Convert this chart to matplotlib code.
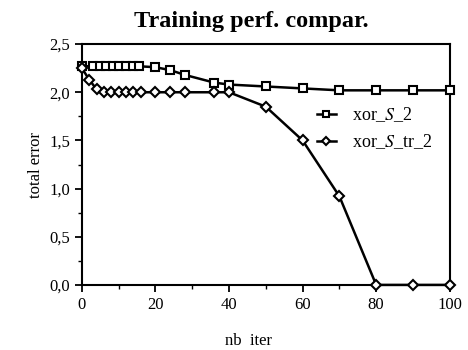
import matplotlib.pyplot as plt
from matplotlib.ticker import MultipleLocator, FuncFormatter

# series
x_sq = [0, 3, 5, 6.5, 8.5, 10, 12, 14, 15.5, 20, 24, 28, 36, 40, 50, 60, 70, 80, 90, 100]
y_sq = [2.27, 2.27, 2.27, 2.27, 2.27, 2.27, 2.27, 2.27, 2.27, 2.26, 2.23, 2.18,
        2.10, 2.08, 2.06, 2.04, 2.02, 2.02, 2.02, 2.02]
x_di = [0, 2, 4, 6, 8, 10, 12, 14, 16, 20, 24, 28, 36, 40, 50, 60, 70, 80, 90, 100]
y_di = [2.25, 2.13, 2.03, 2.0, 2.0, 2.0, 2.0, 2.0, 2.0, 2.0, 2.0, 2.0,
        2.0, 2.0, 1.85, 1.50, 0.92, 0.0, 0.0, 0.0]
labels = ['xor_$S$_2', 'xor_$S$_tr_2']

plt.rcParams['font.family'] = ['Liberation Serif', 'DejaVu Serif']
plt.rcParams['mathtext.fontset'] = 'stix'

fig = plt.figure(figsize=(4.68, 3.5), dpi=100)
ax = fig.add_axes([0.175, 0.186, 0.786, 0.688])

ax.plot(x_sq, y_sq, color='black', lw=1.8, marker='s', ms=6,
        mfc='white', mec='black', mew=1.5, label=labels[0], clip_on=False, zorder=3)
ax.plot(x_di, y_di, color='black', lw=1.8, marker='D', ms=5,
        mfc='white', mec='black', mew=1.5, label=labels[1], clip_on=False, zorder=3)

ax.set_xlim(0, 100)
ax.set_ylim(0, 2.5)
ax.xaxis.set_major_locator(MultipleLocator(20))
ax.xaxis.set_minor_locator(MultipleLocator(10))
ax.yaxis.set_major_locator(MultipleLocator(0.5))
ax.yaxis.set_minor_locator(MultipleLocator(0.25))
ax.yaxis.set_major_formatter(FuncFormatter(lambda v, p: f'{v:.1f}'.replace('.', ',')))
ax.tick_params(which='major', direction='out', length=5, width=1.3, labelsize=12)
ax.tick_params(which='minor', direction='out', length=3, width=1.0)
for s in ax.spines.values():
    s.set_linewidth(1.5)

ax.set_title('Training perf. compar.', fontsize=17.5, fontweight='bold', pad=12, x=0.46)
ax.set_xlabel('nb  iter', fontsize=12)
ax.xaxis.set_label_coords(0.454, -0.2)
ax.set_ylabel('total error', fontsize=12)

ax.legend(loc='upper left', bbox_to_anchor=(0.639, 0.745), frameon=False, fontsize=13,
          handlelength=1.05, handletextpad=0.9, labelspacing=0.45,
          borderpad=0, borderaxespad=0, markerscale=0.8)

fig.savefig('out.png', dpi=100)
